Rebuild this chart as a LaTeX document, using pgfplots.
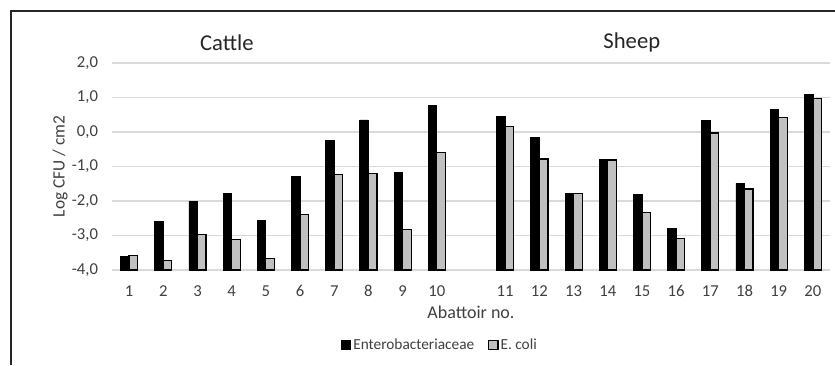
\documentclass[border=0pt]{standalone}
\usepackage{pgfplots}
\pgfplotsset{compat=1.18}
\usepackage{pgfplotstable}
\usepackage{fontspec}
\setmainfont{Carlito}
\definecolor{gridgray}{HTML}{D9D9D9}
\definecolor{barg}{HTML}{C0C0C0}
\definecolor{txt}{HTML}{404040}
\pgfplotstableread{
x E C
0 -3.61 -3.57
1 -2.58 -3.72
2 -2.02 -2.97
3 -1.77 -3.11
4 -2.56 -3.66
5 -1.30 -2.38
6 -0.25 -1.23
7 0.35 -1.20
8 -1.17 -2.83
9 0.77 -0.59
11 0.46 0.17
12 -0.17 -0.78
13 -1.79 -1.79
14 -0.80 -0.81
15 -1.82 -2.34
16 -2.80 -3.09
17 0.34 -0.03
18 -1.49 -1.65
19 0.65 0.43
20 1.08 0.97
}\data
\begin{document}
\begin{tikzpicture}[x=1pt,y=1pt]
\useasboundingbox (0,0) rectangle (626.25,273.75);
\draw[line width=1.1pt, black!85] (8.25,0) -- (8.25,265.5) -- (626.25,265.5);
\begin{axis}[
  at={(84pt,71.25pt)}, anchor=south west,
  scale only axis, width=538.5pt, height=155.25pt,
  ybar, bar width=0.25,
  xmin=-0.5, xmax=20.5, ymin=0, ymax=6,
  ytick={0,1,2,3,4,5,6},
  yticklabels={{-4,0},{-3,0},{-2,0},{-1,0},{0,0},{1,0},{2,0}},
  xtick={0,1,2,3,4,5,6,7,8,9,11,12,13,14,15,16,17,18,19,20},
  xticklabels={1,2,3,4,5,6,7,8,9,10,11,12,13,14,15,16,17,18,19,20},
  ymajorgrids, grid style={gridgray, line width=0.9pt},
  axis line style={draw=none}, major tick length=0pt,
  tick label style={font=\fontsize{12.5}{14}\selectfont, text=txt},
  yticklabel style={xshift=-7pt},
  xticklabel style={yshift=-8pt},
  xlabel={Abattoir no.},
  xlabel style={font=\fontsize{13.5}{15}\selectfont, text=txt, at={(axis description cs:0.5,-0.205)}, anchor=center},
  ylabel={Log CFU / cm2},
  ylabel style={font=\fontsize{13}{15}\selectfont, text=txt, at={(axis description cs:-0.0724,0.5)}, anchor=center, rotate=0},
  legend columns=2,
  legend style={draw=none, at={(axis description cs:0.457,-0.362)}, anchor=center,
    font=\fontsize{11.5}{13}\selectfont, text=txt,
    /tikz/every even column/.append style={column sep=9pt},
    nodes={inner sep=1.5pt}},
  legend image code/.code={\draw[#1] (0pt,-3.4pt) rectangle (6.8pt,3.4pt);},
  clip=false,
]
\addplot[fill=black, draw=black, line width=0.6pt, bar shift=-0.125] table[x=x, y expr=\thisrow{E}+4] {\data};
\addplot[fill=barg, draw=black, line width=0.9pt, bar shift=0.125] table[x=x, y expr=\thisrow{C}+4] {\data};
\legend{Enterobacteriaceae, E. coli}
\node[font=\fontsize{17}{19}\selectfont, text=black!85] at (rel axis cs:0.16,1.097) {Cattle};
\node[font=\fontsize{17}{19}\selectfont, text=black!85] at (rel axis cs:0.724,1.097) {Sheep};
\end{axis}
\end{tikzpicture}
\end{document}
